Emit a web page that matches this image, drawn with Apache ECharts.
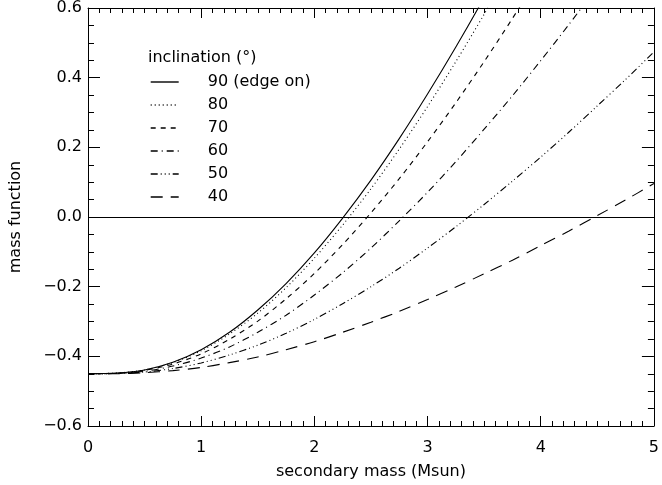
<!DOCTYPE html>
<html>
<head>
    <meta charset="utf-8">
    <title>Mass function</title>
    <script src="https://cdn.jsdelivr.net/npm/echarts@6/dist/echarts.min.js"></script>
</head>
<body style="margin:0;background:#fff">
    <div id="main" style="width: 662px;height:485px;"></div>
    <script type="text/javascript">

    // secondary mass (Msun), sampled every 0.25
    var mass = [0, 0.25, 0.5, 0.75, 1, 1.25, 1.5, 1.75, 2, 2.25, 2.5, 2.75, 3, 3.25, 3.5, 3.75, 4, 4.25, 4.5, 4.75, 5];

    // mass function, one list per inclination
    var inc90 = [-0.45, -0.448, -0.439, -0.417, -0.381, -0.331, -0.267, -0.191, -0.103, -0.003, 0.106, 0.225, 0.353, 0.488, 0.630, 0.779];
    var inc80 = [-0.45, -0.448, -0.439, -0.418, -0.384, -0.336, -0.276, -0.203, -0.118, -0.023, 0.081, 0.195, 0.317, 0.446, 0.582, 0.724];
    var inc70 = [-0.45, -0.449, -0.440, -0.422, -0.393, -0.351, -0.299, -0.235, -0.162, -0.079, 0.012, 0.110, 0.216, 0.328, 0.446, 0.570, 0.699];
    var inc60 = [-0.45, -0.449, -0.443, -0.428, -0.405, -0.373, -0.331, -0.282, -0.224, -0.160, -0.089, -0.011, 0.071, 0.159, 0.252, 0.348, 0.449, 0.553, 0.661];
    var inc50 = [-0.45, -0.449, -0.445, -0.435, -0.419, -0.396, -0.368, -0.334, -0.294, -0.249, -0.200, -0.147, -0.089, -0.028, 0.036, 0.103, 0.172, 0.244, 0.319, 0.395, 0.474];
    var inc40 = [-0.45, -0.450, -0.447, -0.441, -0.432, -0.418, -0.402, -0.381, -0.358, -0.331, -0.302, -0.271, -0.237, -0.201, -0.163, -0.124, -0.082, -0.040, 0.004, 0.049, 0.096];

    var names = ['90 (edge on)', '80', '70', '60', '50', '40'];
    var curves = [inc90, inc80, inc70, inc60, inc50, inc40];
    var dashes = ['solid', [1, 3], [5, 5], [7, 4, 1, 4], [7, 3, 1, 3, 1, 3, 1, 3], [12, 8]];

    var font = 'DejaVu Sans';
    var myChart = echarts.init(document.getElementById('main'));

    function zip(ys) {
        var out = [];
        for (var i = 0; i < ys.length; i++) out.push([mass[i], ys[i]]);
        return out;
    }

    var series = [];
    for (var k = 0; k < names.length; k++) {
        series.push({
            name: names[k],
            type: 'line',
            data: zip(curves[k]),
            smooth: 0.3,
            symbol: 'none',
            silent: true,
            itemStyle: { color: '#000' },
            lineStyle: { color: '#000', width: 1.1, type: dashes[k] }
        });
    }
    // horizontal line at zero
    series[0].markLine = {
        silent: true,
        symbol: 'none',
        label: { show: false },
        lineStyle: { color: '#000', width: 1, type: 'solid' },
        data: [{ yAxis: 0 }]
    };

    function axisLine() {
        return { onZero: false, lineStyle: { color: '#000' } };
    }
    function ticks(len) {
        return { show: true, inside: true, length: len, lineStyle: { color: '#000' } };
    }
    function minor(n, len) {
        return { show: true, splitNumber: n, length: len, lineStyle: { color: '#000' } };
    }

    option = {
        backgroundColor: '#fff',
        animation: false,
        textStyle: { fontFamily: font, color: '#000' },
        title: {
            text: 'inclination (°)',
            left: 143, top: 45,
            textStyle: { fontFamily: font, fontSize: 16, fontWeight: 'normal', color: '#000' }
        },
        legend: {
            orient: 'vertical',
            left: 145, top: 69,
            itemWidth: 28, itemHeight: 10, itemGap: 7,
            itemStyle: { opacity: 0 },
            lineStyle: { width: 1.4, color: '#000' },
            textStyle: { fontFamily: font, fontSize: 16, color: '#000', padding: [0, 0, 0, 24] },
            data: names
        },
        grid: { left: 87, right: 3, top: 7, bottom: 57, containLabel: false },
        xAxis: [{
            type: 'value', min: 0, max: 5, interval: 1,
            name: 'secondary mass (Msun)', nameLocation: 'middle', nameGap: 38,
            nameTextStyle: { fontFamily: font, fontSize: 16, color: '#000' },
            axisLine: axisLine(),
            axisTick: ticks(10),
            minorTick: minor(10, 5),
            axisLabel: { fontFamily: font, fontSize: 16, color: '#000', margin: 14 },
            splitLine: { show: false }
        }, {
            type: 'value', min: 0, max: 5, interval: 1, position: 'top',
            axisLine: axisLine(),
            axisTick: ticks(10),
            minorTick: minor(10, 5),
            axisLabel: { show: false },
            splitLine: { show: false }
        }],
        yAxis: [{
            type: 'value', min: -0.6, max: 0.6, interval: 0.2,
            name: 'mass function', nameLocation: 'middle', nameGap: 64,
            nameTextStyle: { fontFamily: font, fontSize: 16, color: '#000' },
            axisLine: axisLine(),
            axisTick: ticks(12),
            minorTick: minor(4, 6),
            axisLabel: {
                fontFamily: font, fontSize: 16, color: '#000', margin: 6,
                formatter: function (v) { return v.toFixed(1).replace('-', '\u2212'); }
            },
            splitLine: { show: false }
        }, {
            type: 'value', min: -0.6, max: 0.6, interval: 0.2, position: 'right',
            axisLine: axisLine(),
            axisTick: ticks(12),
            minorTick: minor(4, 6),
            axisLabel: { show: false },
            splitLine: { show: false }
        }],
        series: series
    };

    myChart.setOption(option);
    </script>
</body>
</html>
